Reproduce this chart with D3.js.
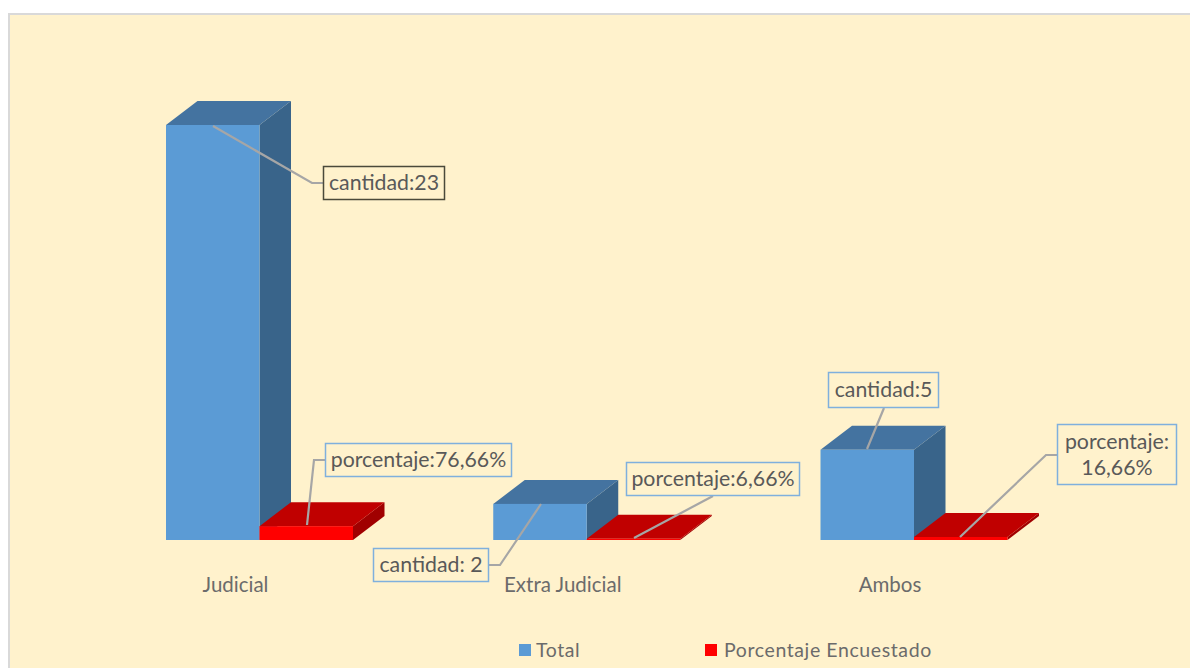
<!DOCTYPE html>
<html><head><meta charset="utf-8">
<script src="https://cdn.jsdelivr.net/npm/d3@7"></script>
<style>html,body{margin:0;padding:0;background:#fff;overflow:hidden}svg{display:block}text{font-family:Lato,"Open Sans",sans-serif}</style>
</head><body><div id="c"></div>
<script>
const categories = ["Judicial", "Extra Judicial", "Ambos"];
const seriesNames = ["Total", "Porcentaje Encuestado"];
const totalValues = [23, 2, 5];
const shareValues = [0.7666, 0.0666, 0.1666];
const totalLabels = [["cantidad:23"], ["cantidad: 2"], ["cantidad:5"]];
const shareLabels = [["porcentaje:76,66%"], ["porcentaje:6,66%"], ["porcentaje:", "16,66%"]];

const W = 1190, H = 668;
const svg = d3.select("#c").append("svg").attr("width", W).attr("height", H);
svg.append("rect").attr("x", 9).attr("y", 14).attr("width", W + 20).attr("height", H + 20)
  .attr("fill", "#FFF2CC").attr("stroke", "#D9D9D9").attr("stroke-width", 2);

const y = d3.scaleLinear().domain([0, 23]).range([540, 125]);
const x0 = d3.scalePoint().domain(categories).range([166, 820.5]);
const barW = 93.5, dx = 31.5, dy = 24;
const x1 = d3.scaleOrdinal().domain(seriesNames).range([0, barW]);

const palette = {
  "Total": {front: "#5B9BD5", top: "#4473A0", side: "#39648A"},
  "Porcentaje Encuestado": {front: "#FF0000", top: "#C00000", side: "#A00000"}
};

function bar3d(g, x, v, c) {
  const t = y(v), b = y(0);
  const pts = a => a.map(p => p.join(",")).join(" ");
  g.append("polygon").attr("points", pts([[x + barW, t], [x + barW + dx, t - dy], [x + barW + dx, b - dy], [x + barW, b]])).attr("fill", c.side);
  g.append("polygon").attr("points", pts([[x, t], [x + dx, t - dy], [x + barW + dx, t - dy], [x + barW, t]])).attr("fill", c.top);
  g.append("rect").attr("x", x).attr("y", t).attr("width", barW).attr("height", b - t).attr("fill", c.front);
}

const bars = svg.append("g");
categories.forEach((cat, i) => {
  const g = bars.append("g");
  bar3d(g, x0(cat) + x1(seriesNames[0]), totalValues[i], palette[seriesNames[0]]);
  bar3d(g, x0(cat) + x1(seriesNames[1]), shareValues[i], palette[seriesNames[1]]);
});

// category labels
svg.append("g").selectAll("text").data(categories).join("text")
  .attr("x", d => x0(d) + 69.5).attr("y", 592).attr("text-anchor", "middle")
  .attr("font-size", 20.5).attr("fill", "#6B6B6B").text(d => d);

// callouts: box rectangle [x0,y0,x1,y1] and leader route
const calloutBoxes = [
  {lines: totalLabels[0], box: [323, 166, 445, 200], stroke: "#4A4A3A", path: [[213, 126], [312, 183], [323, 183]]},
  {lines: shareLabels[0], box: [325, 443, 512, 477], stroke: "#7FB0DD", path: [[307, 525], [314, 460], [325, 460]]},
  {lines: totalLabels[1], box: [373, 548, 489, 582], stroke: "#7FB0DD", path: [[541, 504], [500, 565], [489, 565]]},
  {lines: shareLabels[1], box: [626, 462, 800, 496], stroke: "#7FB0DD", path: [[634, 538], [713, 496]]},
  {lines: totalLabels[2], box: [828, 372, 939, 408], stroke: "#7FB0DD", path: [[867, 449], [884, 408]]},
  {lines: shareLabels[2], box: [1057, 424, 1177, 485], stroke: "#7FB0DD", path: [[960, 537], [1046, 455], [1057, 455]]}
];
const line = d3.line();
const co = svg.append("g");
calloutBoxes.forEach(c => {
  co.append("path").attr("d", line(c.path)).attr("fill", "none").attr("stroke", "#A6A6A6").attr("stroke-width", 2.2);
  const [a, b, e, f] = c.box;
  co.append("rect").attr("x", a + .5).attr("y", b + .5).attr("width", e - a - 1).attr("height", f - b - 1)
    .attr("fill", "#FFF2CC").attr("stroke", c.stroke).attr("stroke-width", 1.5);
  const lh = 26, cy = (b + f) / 2, start = cy - (c.lines.length - 1) * lh / 2;
  c.lines.forEach((t, i) => co.append("text").attr("x", (a + e) / 2).attr("y", start + i * lh + 7)
    .attr("text-anchor", "middle").attr("font-size", 21.3).attr("fill", "#595959").text(t));
});

// legend
const legendX = [519, 705], legendT = [536, 724];
const lg = svg.append("g");
seriesNames.forEach((n, i) => {
  lg.append("rect").attr("x", legendX[i]).attr("y", 644).attr("width", 12).attr("height", 12).attr("fill", palette[n].front);
  lg.append("text").attr("x", legendT[i]).attr("y", 657).attr("font-size", 19.5).attr("letter-spacing", 0.6).attr("fill", "#6B6B6B").text(n);
});
</script></body></html>
